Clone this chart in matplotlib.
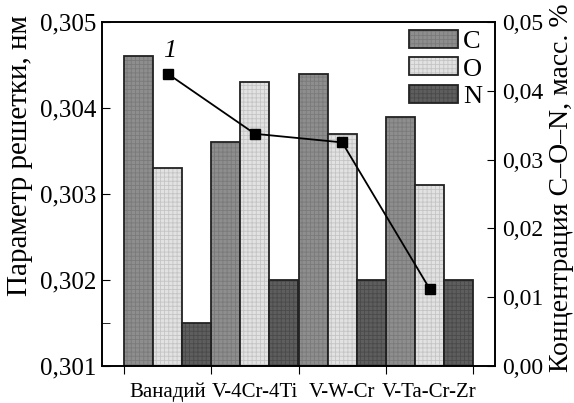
import matplotlib
matplotlib.use("Agg")
import matplotlib.pyplot as plt
import numpy as np

plt.rcParams['font.family'] = ['Liberation Serif', 'DejaVu Serif']
plt.rcParams['hatch.linewidth'] = 0.6

categories = ["Ванадий", "V-4Cr-4Ti", "V-W-Cr", "V-Ta-Cr-Zr"]
series_names = ["C", "O", "N"]
# bar heights drawn on the lattice-parameter scale
c_values = [0.3046, 0.3036, 0.3044, 0.3039]
o_values = [0.3033, 0.3043, 0.3037, 0.3031]
n_values = [0.3015, 0.3020, 0.3020, 0.3020]
lattice = [0.3044, 0.3037, 0.3036, 0.3019]

left_ticks = [0.301, 0.302, 0.303, 0.304, 0.305]
left_labels = ["0,301", "0,302", "0,303", "0,304", "0,305"]
right_ticks = [0.00, 0.01, 0.02, 0.03, 0.04, 0.05]
right_labels = ["0,00", "0,01", "0,02", "0,03", "0,04", "0,05"]

W, H = 574, 403
fig = plt.figure(figsize=(W / 100, H / 100), dpi=100)
ax = fig.add_axes([102 / W, 1 - 366 / H, (495 - 102) / W, (366 - 22) / H])

x = np.arange(len(categories))
w = 1 / 3
styles = [
    dict(facecolor="#8e8e8e", hatch="++++", hatchcolor="#7a7a7a"),
    dict(facecolor="#e2e2e2", hatch="++++", hatchcolor="#c4c4c4"),
    dict(facecolor="#5e5e5e", hatch="++++", hatchcolor="#4a4a4a"),
]
base = 0.301
handles = []
for i, (vals, st) in enumerate(zip([c_values, o_values, n_values], styles)):
    b = ax.bar(x + (i - 1) * w, np.array(vals) - base, bottom=base, width=w,
               facecolor=st["facecolor"], edgecolor="#222222", linewidth=1.3,
               hatch=st["hatch"], label=series_names[i], zorder=2)
    for p in b:
        p._hatch_color = matplotlib.colors.to_rgba(st["hatchcolor"])
    handles.append(b)

ax.plot(x, lattice, color="black", lw=1.3, marker="s", ms=7.5, zorder=4)
ax.text(x[0] + 0.03, 0.30466, "1", fontstyle="italic",
        fontsize=19, ha="center", va="center")

ax.set_xlim(-0.75, 3.75)
ax.set_ylim(0.301, 0.305)
ax.set_yticks(left_ticks)
ax.set_yticklabels(left_labels, fontsize=18)
ax.set_yticks([0.3015], minor=True)
ax.set_xticks(np.arange(-0.5, 4, 1))
ax.set_xticklabels([])
ax.set_xticks(x, minor=True)
ax.set_xticklabels(categories, minor=True, fontsize=15)
ax.tick_params(axis="x", which="minor", length=0, pad=12)
ax.tick_params(axis="x", which="major", length=6, direction="out")
ax.tick_params(axis="y", which="both", direction="in", length=6, pad=4)
ax.set_ylabel("Параметр решетки, нм", fontsize=21, va="center")
ax.yaxis.set_label_coords((20 - 102) / 393, 0.613)

ax2 = ax.twinx()
ax2.set_ylim(0, 0.05)
ax2.set_yticks(right_ticks)
ax2.set_yticklabels(right_labels, fontsize=17)
ax2.tick_params(axis="y", direction="in", length=6, pad=5)
ax2.set_ylabel("Концентрация C–O–N, масс. %", fontsize=20, rotation=90,
               va="center")
ax2.yaxis.set_label_coords((561 - 102) / 393, (366 - 188) / 344)

for a in (ax, ax2):
    for s in a.spines.values():
        s.set_linewidth(1.2)

leg = ax.legend(handles=handles, loc="upper left", frameon=False,
                fontsize=19, handlelength=1.86, handleheight=0.68,
                borderpad=0, borderaxespad=0, labelspacing=0.15,
                handletextpad=0.2,
                bbox_to_anchor=(409 / W, 1 - 30 / H),
                bbox_transform=fig.transFigure)

fig.savefig("out.png", dpi=100)
